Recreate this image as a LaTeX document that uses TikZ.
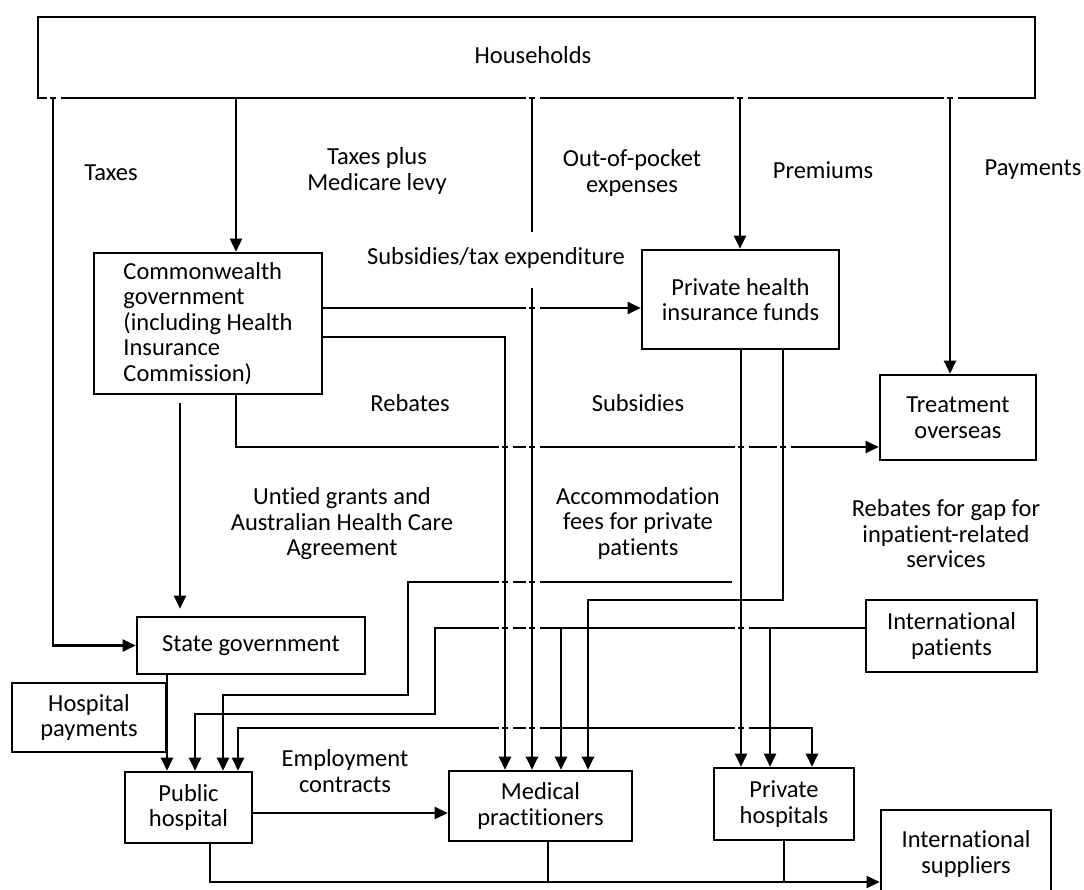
\documentclass[tikz,border=0pt]{standalone}
\usepackage{fontspec}
\setmainfont{Carlito}[Ligatures=NoCommon]
\usetikzlibrary{arrows.meta,calc}
\newcommand\dfont{\fontsize{24.5}{25.5}\selectfont}
\begin{document}
\begin{tikzpicture}[x=1pt,y=-1pt,
  box/.style={draw, line width=2.6pt, inner sep=0pt, align=center, font=\dfont},
  ln/.style={line width=2.3pt},
  arr/.style={ln, -{Triangle[width=12pt,length=13pt]}},
  lbl/.style={align=center, inner sep=0pt, font=\dfont}]
\clip (0,0) rectangle (1084,889);
\fill[white] (0,0) rectangle (1084,889);

% boxes
\node[box, minimum width=997pt, minimum height=81pt] (hh) at (536.5,57.5) {};
\node[lbl] at (533,55) {Households};
\node[box, minimum width=228pt, minimum height=141pt, align=left] (comm) at (208,323.5)
  {Commonwealth\\government\\(including Health\\Insurance\\Commission)};
\node[box, minimum width=197pt, minimum height=99pt] (phi) at (740.5,299.5) {Private health\\insurance funds};
\node[box, minimum width=156pt, minimum height=85pt] (tro) at (958,417.5) {Treatment\\overseas};
\node[box, minimum width=228pt, minimum height=57pt] (sg) at (251,645.5) {State government};
\node[box, minimum width=154pt, minimum height=69pt] (hp) at (89,717.5) {Hospital\\payments};
\node[box, minimum width=171pt, minimum height=72pt] (ip) at (951.5,636) {International\\patients};
\node[box, minimum width=127pt, minimum height=71pt] (pub) at (188.5,807.5) {Public\\hospital};
\node[box, minimum width=183pt, minimum height=70pt] (med) at (540.5,806) {Medical\\practitioners};
\node[box, minimum width=140pt, minimum height=72pt] (prh) at (784,804) {Private\\hospitals};
\node[box, minimum width=170pt, minimum height=95pt] (isup) at (966,857.5) {};
\node[lbl] at (966,854) {International\\suppliers};

% x positions
\coordinate (xT) at (53,0);
\coordinate (xC) at (236,0);
\coordinate (xU) at (180,0);
\coordinate (xO) at (532,0);
\coordinate (xR) at (505,0);
\coordinate (xP) at (740,0);
\coordinate (xPa) at (950,0);
\coordinate (xA) at (741,0);
\coordinate (xB) at (783,0);
\coordinate (xS) at (167,0);
\coordinate (xm1) at (561,0);
\coordinate (xm2) at (588,0);
\coordinate (xh1) at (770,0);
\coordinate (xh2) at (812,0);
\coordinate (xp2) at (195,0);
\coordinate (xp3) at (223,0);
\coordinate (xp4) at (238,0);
\coordinate (xbp) at (210,0);
\coordinate (xbm) at (548,0);
\coordinate (xbh) at (784,0);
% y positions
\coordinate (y1) at (0,308);
\coordinate (y2) at (0,337);
\coordinate (y3) at (0,447);
\coordinate (yA) at (0,582);
\coordinate (yB) at (0,600);
\coordinate (yI) at (0,628);
\coordinate (yL) at (0,728);
\coordinate (yE) at (0,813);
\coordinate (yBot) at (0,882);
\coordinate (oop1) at (532,232);
\coordinate (oop2) at (532,288);

% connectors
\draw[arr] (hh.south -| xT) |- (sg.west);
\draw[arr] (hh.south -| xC) -- (comm.north -| xC);
\draw[ln] (hh.south -| xO) -- (oop1);
\draw[arr] (oop2) -- (med.north -| xO);
\draw[arr] (hh.south -| xP) -- (phi.north -| xP);
\draw[arr] (hh.south -| xPa) -- (tro.north -| xPa);
\draw[arr] (comm.east |- y1) -- (phi.west |- y1);
\draw[arr] (comm.east |- y2) -| (med.north -| xR);
\draw[arr] (comm.south -| xC) |- (tro.west |- y3);
\draw[arr, shorten <=8pt, shorten >=7pt] (comm.south -| xU) -- (sg.north -| xU);
\draw[arr] (phi.south -| xA) -- (prh.north -| xA);
\draw[arr, shorten <=9pt] (xA |- yA) -- (408,582) -- (408,695) -- (223,695) -- (pub.north -| xp3);
\draw[arr] (phi.south -| xB) -- (xB |- yB) -- (xm2 |- yB) -- (med.north -| xm2);
\draw[arr] (ip.west |- yI) -- (435,628) -- (435,714) -- (195,714) -- (pub.north -| xp2);
\draw[arr] (xh1 |- yI) -- (prh.north -| xh1);
\draw[arr] (xm1 |- yI) -- (med.north -| xm1);
\draw[ln, {Triangle[width=12pt,length=13pt]}-{Triangle[width=12pt,length=13pt]}]
  (pub.north -| xp4) -- (xp4 |- yL) -- (xh2 |- yL) -- (prh.north -| xh2);
\draw[arr] (sg.south -| xS) -- (pub.north -| xS);
\draw[arr] (pub.east |- yE) -- (med.west |- yE);
\draw[arr] (pub.south -| xbp) |- (isup.west |- yBot);
\draw[ln] (med.south -| xbm) -- (xbm |- yBot);
\draw[ln] (prh.south -| xbh) -- (xbh |- yBot);

% line-crossing gaps
\foreach \cx/\cy in {53/98,532/98,740/98,950/98,532/308,505/447,532/447,741/447,783/447,
  505/582,532/582,505/628,532/628,741/628,505/728,532/728,741/728}
  \draw[white, line width=3.6pt] (\cx-6.5,\cy) -- (\cx-2.6,\cy) (\cx+2.6,\cy) -- (\cx+7.5,\cy);

% labels
\node[lbl] at (111,173) {Taxes};
\node[lbl] at (377,171) {Taxes plus\\Medicare levy};
\node[lbl] at (632,173) {Out-of-pocket\\expenses};
\node[lbl] at (823,170) {Premiums};
\node[lbl] at (1033,170) {Payments};
\node[lbl] at (496,258) {Subsidies/tax expenditure};
\node[lbl] at (410,403) {Rebates};
\node[lbl] at (638,403) {Subsidies};
\node[lbl] at (342,524) {Untied grants and\\Australian Health Care\\Agreement};
\node[lbl] at (638,523) {Accommodation\\fees for private\\patients};
\node[lbl] at (946,534) {Rebates for gap for\\inpatient-related\\services};
\node[lbl] at (345,771) {Employment\\contracts};
\end{tikzpicture}
\end{document}
